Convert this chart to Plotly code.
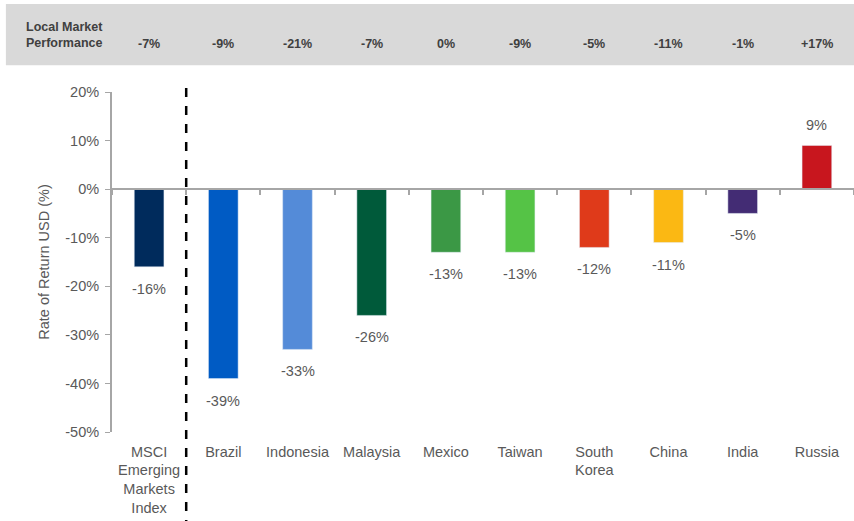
import plotly.graph_objects as go

# Markets and their USD rate of return (%)
markets = ["MSCI<br>Emerging<br>Markets<br>Index", "Brazil", "Indonesia", "Malaysia", "Mexico",
           "Taiwan", "South<br>Korea", "China", "India", "Russia"]
usd_return = [-16, -39, -33, -26, -13, -13, -12, -11, -5, 9]
local_perf = ["-7%", "-9%", "-21%", "-7%", "0%", "-9%", "-5%", "-11%", "-1%", "+17%"]
bar_colors = ["#002B5C", "#005BC4", "#548BD8", "#005A3A", "#3B9845",
              "#55C346", "#DF3A1A", "#FBB813", "#432C74", "#C8161E"]
y_ticks = [20, 10, 0, -10, -20, -30, -40, -50]

FONT = "Liberation Sans"
GREY = "#595959"

fig = go.Figure()
fig.add_trace(go.Bar(
    x=markets, y=usd_return, marker_color=bar_colors, width=0.4,
    hoverinfo="skip", showlegend=False,
))
# invisible trace that drives the tick axis drawn along 0%
fig.add_trace(go.Scatter(
    x=markets, y=[None] * len(markets), xaxis="x2", mode="markers",
    hoverinfo="skip", showlegend=False,
))

# value labels beyond bar ends
for m, v in zip(markets, usd_return):
    fig.add_annotation(
        x=m, y=v, text=f"{v}%", showarrow=False,
        yanchor="top" if v < 0 else "bottom",
        yshift=-12 if v < 0 else 10,
        font=dict(family=FONT, size=14.5, color=GREY),
    )

# header band with local market performance
fig.add_shape(type="rect", xref="paper", yref="paper",
              x0=-0.143, x1=1.05, y0=1.079, y1=1.259,
              fillcolor="#D9D9D9", line_width=0, layer="below")
fig.add_annotation(
    xref="paper", yref="paper", x=-0.119, y=1.168, xanchor="left", yanchor="middle",
    text="<b>Local Market<br>Performance</b>", align="left", showarrow=False,
    font=dict(family=FONT, size=12.5, color="#404040"),
)
for m, p in zip(markets, local_perf):
    fig.add_annotation(
        x=m, yref="paper", y=1.168, text=f"<b>{p}</b>", showarrow=False,
        font=dict(family=FONT, size=12.5, color="#404040"),
    )

# dashed divider between the index and the individual markets
fig.add_shape(type="line", xref="x", yref="paper", x0=0.5, x1=0.5,
              y0=1.012, y1=-0.27, line=dict(color="black", width=2.5, dash="dash"))

fig.update_layout(
    width=854, height=521,
    margin=dict(l=112, r=0, t=92, b=89),
    paper_bgcolor="white", plot_bgcolor="white",
    font=dict(family=FONT, color=GREY, size=14),
    bargap=0.6,
    xaxis=dict(
        type="category", range=[-0.5, 9.5], showline=False, showgrid=False,
        ticks="", tickfont=dict(family=FONT, size=14.5, color=GREY),
        ticklabelstandoff=9, fixedrange=True,
    ),
    xaxis2=dict(
        type="category", overlaying="x", anchor="free", position=50 / 70,
        side="bottom", range=[-0.5, 9.5], showline=True, linecolor="#A6A6A6",
        linewidth=2, ticks="outside", ticklen=5, tickwidth=1.5, tickcolor="#A6A6A6",
        tickson="boundaries", showticklabels=False, showgrid=False,
        categoryorder="array", categoryarray=markets,
    ),
    yaxis=dict(
        range=[-50, 20], tickvals=y_ticks, ticktext=[f"{t}%" for t in y_ticks],
        showgrid=False, zeroline=False,
        showline=True, linecolor="#A6A6A6", linewidth=2,
        ticks="outside", ticklen=5, tickcolor="#A6A6A6", ticklabelstandoff=3,
        tickfont=dict(family=FONT, size=14.5, color=GREY),
        title=dict(text="Rate of Return USD (%)", standoff=12,
                   font=dict(family=FONT, size=14.5, color=GREY)),
    ),
)

fig.write_html("out.html")
